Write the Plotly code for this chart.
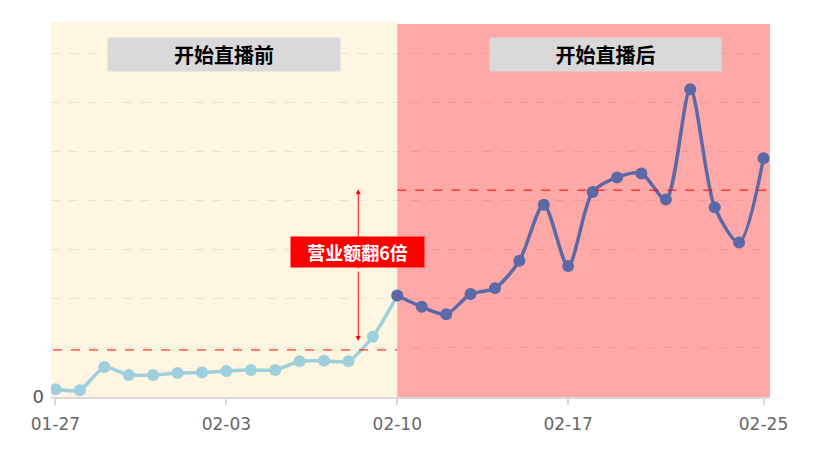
import plotly.graph_objects as go

# dates on the x axis (category)
dates = [
    "01-27", "01-28", "01-29", "01-30", "01-31", "02-01", "02-02", "02-03",
    "02-04", "02-05", "02-06", "02-07", "02-08", "02-09", "02-10", "02-11",
    "02-12", "02-13", "02-14", "02-15", "02-16", "02-17", "02-18", "02-19",
    "02-20", "02-21", "02-22", "02-23", "02-24", "02-25",
]
tick_dates = ["01-27", "02-03", "02-10", "02-17", "02-25"]

# before live streaming: 01-27 .. 02-10
before_dates = dates[:15]
before_vals = [0.16, 0.14, 0.61, 0.45, 0.45, 0.49, 0.50, 0.53,
               0.55, 0.55, 0.73, 0.74, 0.73, 1.23, 2.07]

# after live streaming: 02-10 .. 02-25
after_dates = dates[14:]
after_vals = [2.07, 1.84, 1.69, 2.10, 2.22, 2.78, 3.92, 2.67,
              4.18, 4.48, 4.56, 4.03, 6.28, 3.87, 3.15, 4.87]

before_avg = 0.96
after_avg = 4.22
split_date = "02-10"

label_before = "开始直播前"
label_after = "开始直播后"
label_growth = "营业额翻6倍"

FONT = "Noto Sans CJK SC"

fig = go.Figure()

fig.add_trace(
    go.Scatter(
        x=before_dates,
        y=before_vals,
        mode="lines+markers",
        line=dict(color="#9ecfdd", width=3.5, shape="spline", smoothing=0.6),
        marker=dict(color="#9ecfdd", size=12),
        showlegend=False,
        hoverinfo="x+y",
    )
)
fig.add_trace(
    go.Scatter(
        x=after_dates,
        y=after_vals,
        mode="lines+markers",
        line=dict(color="#5b69a6", width=3.5, shape="spline", smoothing=0.8),
        marker=dict(color="#5b69a6", size=12),
        showlegend=False,
        hoverinfo="x+y",
    )
)

split_idx = dates.index(split_date)

shapes = [
    # background zones
    dict(type="rect", xref="x", yref="paper", x0=-0.5, x1=split_idx,
         y0=0, y1=1, fillcolor="#fef6e0", line_width=0, layer="below"),
    dict(type="rect", xref="x", yref="paper", x0=split_idx, x1=len(dates),
         y0=0, y1=0.995, fillcolor="#ffa8a8", line_width=0, layer="below"),
    # average lines
    dict(type="line", xref="x", yref="y", x0=-0.1, x1=split_idx,
         y0=before_avg, y1=before_avg,
         line=dict(color="red", width=1, dash="dash")),
    dict(type="line", xref="x", yref="y", x0=split_idx, x1=len(dates),
         y0=after_avg, y1=after_avg,
         line=dict(color="red", width=1, dash="dash")),
]

arrow_x = 12.4
mid_y = (before_avg + after_avg) / 2
annotations = [
    dict(x=arrow_x, y=4.24, ax=arrow_x, ay=mid_y, xref="x", yref="y",
         axref="x", ayref="y", text="", showarrow=True, arrowhead=2,
         arrowsize=1, arrowwidth=1, arrowcolor="red"),
    dict(x=arrow_x, y=1.14, ax=arrow_x, ay=mid_y, xref="x", yref="y",
         axref="x", ayref="y", text="", showarrow=True, arrowhead=2,
         arrowsize=1, arrowwidth=1, arrowcolor="red"),
    dict(x=12.37, y=2.96, xref="x", yref="y", text=f"<b>{label_growth}</b>",
         showarrow=False, bgcolor="#ff0000", width=133, height=30,
         borderpad=0, font=dict(family=FONT, size=18, color="white")),
    dict(x=6.90, y=6.99, xref="x", yref="y", text=f"<b>{label_before}</b>",
         showarrow=False, bgcolor="#d9d9d9", width=232, height=33,
         borderpad=0, font=dict(family=FONT, size=20, color="black")),
    dict(x=22.53, y=6.99, xref="x", yref="y", text=f"<b>{label_after}</b>",
         showarrow=False, bgcolor="#d9d9d9", width=231, height=33,
         borderpad=0, font=dict(family=FONT, size=20, color="black")),
]

# the page body adds an 8px offset, so the figure is a bit smaller
fig.update_layout(
    width=812,
    height=445,
    margin=dict(l=43, r=50, t=14, b=56),
    paper_bgcolor="white",
    plot_bgcolor="rgba(0,0,0,0)",
    font=dict(family=FONT, color="#666666"),
    shapes=shapes,
    annotations=annotations,
    xaxis=dict(
        type="category",
        categoryorder="array",
        categoryarray=dates,
        range=[-0.184, 29.266],
        tickvals=tick_dates,
        ticktext=tick_dates,
        showgrid=False,
        showline=True,
        linecolor="#d9d9d9",
        linewidth=2,
        ticks="outside",
        ticklen=6,
        tickcolor="#d9d9d9",
        tickwidth=2,
        ticklabelstandoff=5,
        tickfont=dict(family="DejaVu Sans", size=17, color="#666666"),
        zeroline=False,
    ),
    yaxis=dict(
        range=[0, 7.65],
        tickvals=[0, 1, 2, 3, 4, 5, 6, 7],
        ticktext=["0", "", "", "", "", "", "", ""],
        showgrid=True,
        gridcolor="rgba(0,0,0,0.07)",
        griddash="dash",
        gridwidth=1,
        zeroline=False,
        showline=False,
        ticklabelstandoff=6,
        tickfont=dict(family="DejaVu Sans", size=18, color="#555555"),
    ),
)

fig.write_html("out.html")
